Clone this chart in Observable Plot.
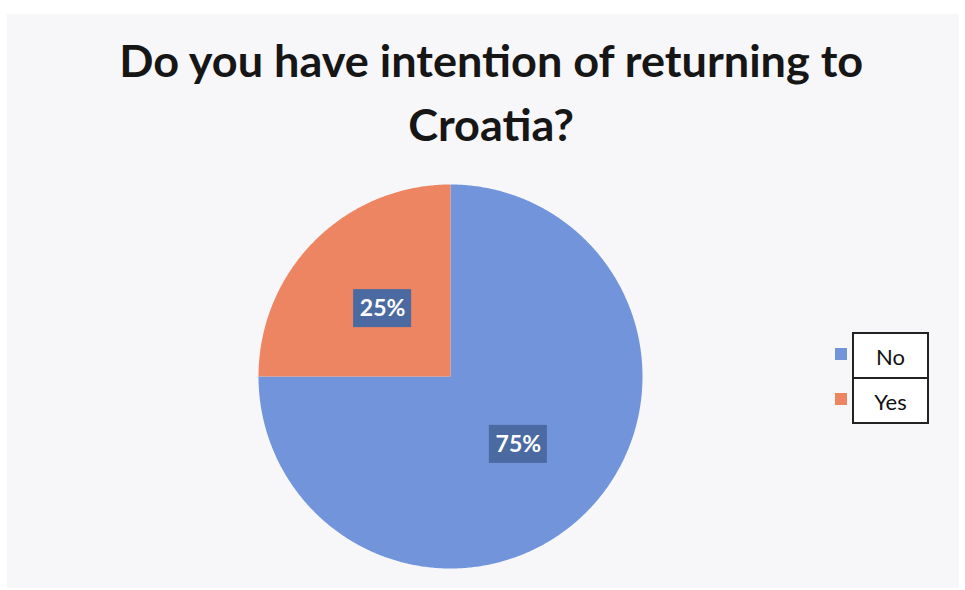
<!DOCTYPE html>
<html>
<head>
<meta charset="utf-8">
<script src="https://cdn.jsdelivr.net/npm/d3@7"></script>
<script src="https://cdn.jsdelivr.net/npm/@observablehq/plot@0.6"></script>
<style>
  html, body { margin: 0; padding: 0; background: #ffffff; }
  #wrap { position: relative; width: 965px; height: 590px; overflow: hidden; }
  #bg { position: absolute; left: 7px; top: 14px; width: 952px; height: 574px; background: #f7f6f9; }
  #chart { position: absolute; left: 0; top: 0; }
  .tline { position: absolute; left: 0; width: 982px; text-align: center; font-family: Lato, "Open Sans", sans-serif; font-weight: 700; font-size: 43px; line-height: 60px; color: #161616; white-space: nowrap; }
  .tline span { display: inline-block; transform-origin: 50% 50%; }
  #legend { position: absolute; left: 835px; top: 332px; font-family: Lato, "Open Sans", sans-serif; font-size: 22px; color: #111; }
  .lrow { position: relative; height: 45px; }
  .lsw { position: absolute; left: 0; top: 16px; width: 12px; height: 12px; }
  .lbox { position: absolute; left: 17px; top: 0; width: 73px; height: 43px; border: 2px solid #222; text-align: center; line-height: 45px; background: #fff; box-sizing: content-box; }
  .lrow + .lrow .lbox { top: 2px; border-top: none; height: 43px; }
</style>
</head>
<body>
<div id="wrap">
  <div id="bg"></div>
  <div id="chart"></div>
  <div class="tline" id="t1" style="top:31px"><span>Do you have intention of returning to</span></div>
  <div class="tline" id="t2" style="top:95px"><span>Croatia?</span></div>
  <div id="legend"></div>
</div>
<script>
// ---- data ----
const categories = ["No", "Yes"];
const values = [75, 25];
const labels = ["75%", "25%"];
const colors = ["#7194db", "#ee8562"];

// ---- derived slice geometry (unit circle, clockwise from 12 o'clock) ----
const arcs = d3.pie().sort(null).value(d => d)(values);
const slicePts = [];
arcs.forEach((a, i) => {
  const cat = categories[i];
  const n = Math.max(2, Math.ceil((a.endAngle - a.startAngle) / (Math.PI / 360)));
  slicePts.push({cat, x: 0, y: 0});
  for (let j = 0; j <= n; j++) {
    const t = a.startAngle + (a.endAngle - a.startAngle) * j / n;
    slicePts.push({cat, x: Math.sin(t), y: Math.cos(t)});
  }
  slicePts.push({cat, x: 0, y: 0});
});
const labelPts = arcs.map((a, i) => {
  const m = (a.startAngle + a.endAngle) / 2;
  return {label: labels[i], x: 0.5 * Math.sin(m), y: 0.5 * Math.cos(m)};
});

const chart = Plot.plot({
  width: 965,
  height: 590,
  marginLeft: 258,
  marginRight: 323,
  marginTop: 184,
  marginBottom: 22,
  x: {domain: [-1, 1], axis: null},
  y: {domain: [-1, 1], axis: null},
  color: {domain: categories, range: colors},
  style: {background: "transparent", overflow: "visible"},
  marks: [
    Plot.line(slicePts, {x: "x", y: "y", z: "cat", fill: "cat", stroke: "none", curve: "linear"}),
    Plot.rect(labelPts, {x1: "x", x2: "x", y1: "y", y2: "y", insetLeft: -29, insetRight: -29, insetTop: -19, insetBottom: -19, fill: "#4b6aa1"}),
    Plot.text(labelPts, {x: "x", y: "y", text: "label", fill: "white", fontWeight: "bold", fontSize: 23, fontFamily: "Lato, 'Open Sans', sans-serif"})
  ]
});
document.getElementById("chart").appendChild(chart);

// legend
const leg = document.getElementById("legend");
categories.forEach((c, i) => {
  const row = document.createElement("div");
  row.className = "lrow";
  row.innerHTML = `<div class="lsw" style="background:${colors[i]}"></div><div class="lbox">${c}</div>`;
  leg.appendChild(row);
});

// fit the title's first line to the reference width
const s1 = document.querySelector("#t1 span");
const s2 = document.querySelector("#t2 span");
const k = 744 / s1.getBoundingClientRect().width;
s1.style.transform = `scaleX(${k})`;
s2.style.transform = `scaleX(${k})`;
</script>
</body>
</html>
